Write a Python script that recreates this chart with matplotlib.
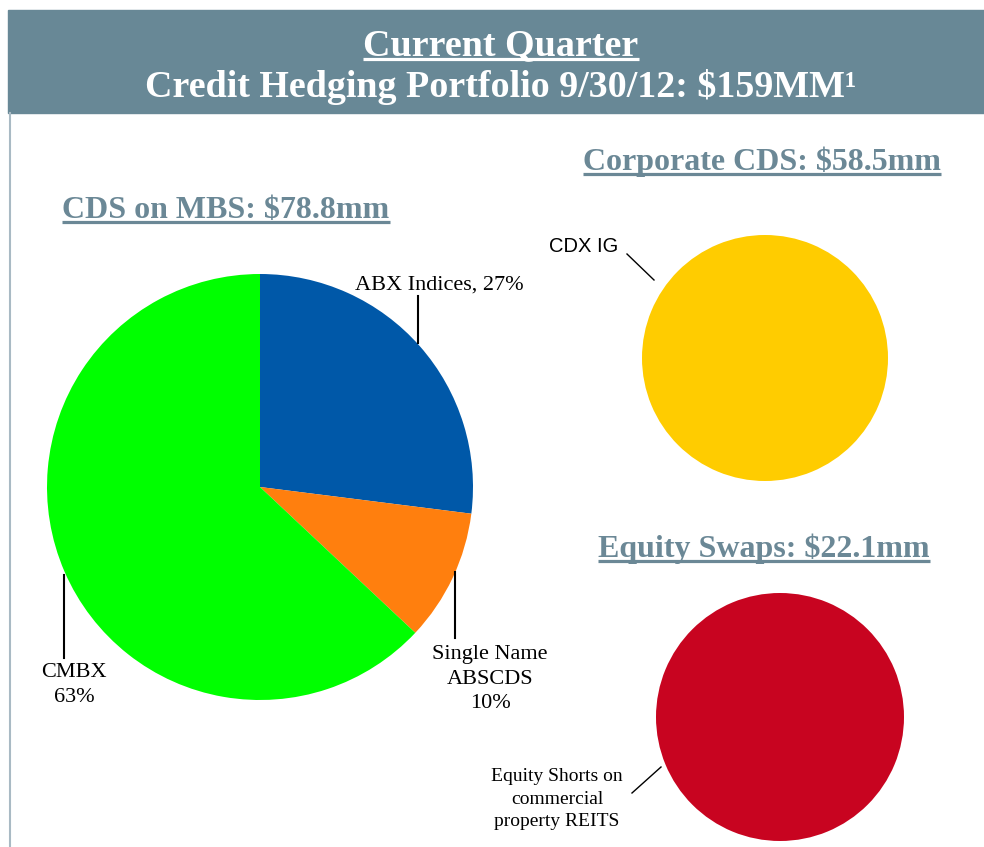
import matplotlib.pyplot as plt
from matplotlib.patches import Rectangle

# data
mbs_labels = ["ABX Indices, 27%", "Single Name\nABSCDS\n10%", "CMBX\n63%"]
mbs_values = [27, 10, 63]
mbs_colors = ["#0058a8", "#ff7f0e", "#00ff00"]
corp_values = [100]
corp_colors = ["#ffcc00"]
eq_values = [100]
eq_colors = ["#c80420"]

titles = ["Current Quarter", "Credit Hedging Portfolio 9/30/12: $159MM\u00b9"]
sub_titles = ["CDS on MBS: $78.8mm", "Corporate CDS: $58.5mm", "Equity Swaps: $22.1mm"]

H = 847
serif = ["Liberation Serif", "DejaVu Serif"]
head_col = "#688896"

fig = plt.figure(figsize=(9.84, 8.47), dpi=100)
ax = fig.add_axes([0, 0, 1, 1])

def Y(y):
    return H - y

# pies (pixel coordinates, y up)
ax.pie(mbs_values, colors=mbs_colors, startangle=90, counterclock=False,
       center=(260, Y(487)), radius=213, wedgeprops=dict(linewidth=0))
ax.pie(corp_values, colors=corp_colors, center=(765, Y(358)), radius=123,
       wedgeprops=dict(linewidth=0))
ax.pie(eq_values, colors=eq_colors, center=(780, Y(717)), radius=124,
       wedgeprops=dict(linewidth=0))

ax.set_xlim(0, 984)
ax.set_ylim(0, H)
ax.set_aspect("auto")
ax.axis("off")

# header band and left border
ax.add_patch(Rectangle((8, Y(113)), 976, 103, color=head_col, zorder=0))
ax.plot([10, 10], [Y(113), 0], color="#a9bac4", lw=1.5)

def heading(x, y, s, color, size, under=True):
    # y is the baseline in pixels from the top
    ax.text(x, Y(y), s, ha="center", va="baseline", color=color,
            fontsize=size, fontweight="bold", family=serif)
    if under:
        heads.append((x, y, s, color, size))

heads = []
heading(501, 55, titles[0], "white", 27.4)
heading(501, 97, titles[1], "white", 27.4, under=False)
heading(226, 218, sub_titles[0], "#6b8896", 23)
heading(762, 170, sub_titles[1], "#6b8896", 23)
heading(764, 557, sub_titles[2], "#6b8896", 23)

# labels and leader lines
lab = dict(fontsize=16, family=serif, color="black", ha="center", va="center",
           linespacing=1.38)
ax.text(439, Y(285), mbs_labels[0], **lab)
ax.plot([418, 418], [Y(296), Y(343)], color="black", lw=1.5)
ax.text(490, Y(679), mbs_labels[1], **lab)
ax.plot([455, 455], [Y(572), Y(638)], color="black", lw=1.5)
ax.text(74, Y(685), mbs_labels[2], **lab)
ax.plot([64, 64], [Y(575), Y(658)], color="black", lw=1.5)

ax.text(584, Y(246), "CDX IG", fontsize=14.5, family=["Liberation Sans", "DejaVu Sans"],
        ha="center", va="center")
ax.plot([627, 654], [Y(254), Y(280)], color="black", lw=1)

ax.text(557, Y(799), "Equity Shorts on\ncommercial\nproperty REITS", fontsize=14,
        family=serif, color="black", ha="center", va="center", linespacing=1.45)
ax.plot([632, 661], [Y(793), Y(767)], color="black", lw=1)

# underlines, 4 px below the baseline
fig.canvas.draw()
r = fig.canvas.get_renderer()
for t in ax.texts:
    for x, y, s, c, size in heads:
        if t.get_text() == s:
            bb = t.get_window_extent(renderer=r)
            ax.plot([bb.x0, bb.x1], [Y(y + 4), Y(y + 4)], color=c, lw=2.3,
                    solid_capstyle="butt")

fig.savefig("out.png", dpi=100)
